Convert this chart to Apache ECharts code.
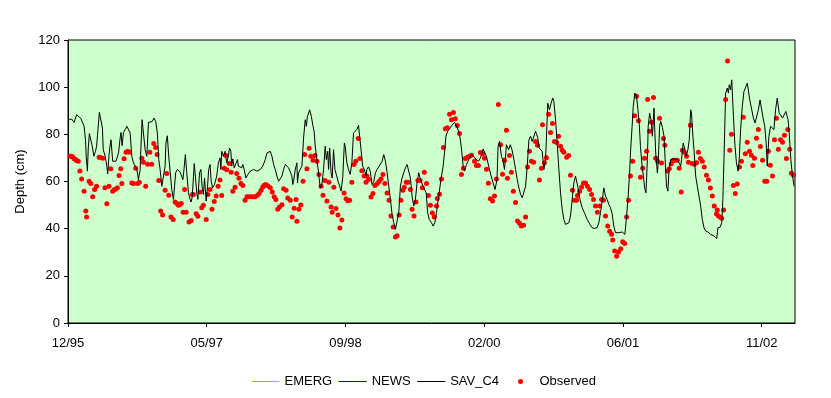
<!DOCTYPE html>
<html>
<head>
<meta charset="utf-8">
<script src="https://cdn.jsdelivr.net/npm/echarts@6/dist/echarts.min.js"></script>
<style>
html,body{margin:0;padding:0;background:#fff;}
#show{width:831px;height:398px;}
</style>
</head>
<body>
<div id="show"></div>
<script>
// x values are days counted from the start of the record (12/95)
var tickDays = [0, 500, 1000, 1500, 2000, 2500];
var tickLabels = ['12/95', '05/97', '09/98', '02/00', '06/01', '11/02'];

// simulated depth (SAV_C4); EMERG and NEWS sit under it and are not visible
var simDay = [4,13,22,31,37,46,53,58,63,66,70,73,77,83,88,93,99,103,108,113,119,124,127,134,140,143,148,151,155,161,167,173,182,188,191,195,200,206,212,218,224,230,236,242,248,254,260,263,267,272,278,284,290,296,303,310,316,322,327,332,338,344,350,353,358,363,368,374,380,384,388,394,404,410,414,418,423,428,434,440,444,448,455,458,464,468,474,479,483,488,492,498,503,507,512,516,521,528,536,542,548,551,554,560,566,572,578,582,587,590,594,599,605,611,614,620,626,630,635,641,648,657,669,681,693,702,711,717,723,729,735,741,747,753,759,765,771,777,783,789,795,801,807,810,813,819,825,827,831,837,843,849,855,859,863,871,877,883,887,891,897,903,909,915,921,927,931,936,939,943,948,952,957,962,967,973,979,984,990,996,999,1005,1011,1017,1023,1029,1035,1041,1047,1051,1056,1062,1068,1074,1077,1083,1089,1096,1102,1108,1114,1120,1126,1132,1138,1144,1150,1156,1162,1168,1174,1180,1186,1192,1198,1204,1210,1216,1222,1228,1234,1240,1246,1252,1258,1264,1270,1282,1291,1296,1302,1310,1316,1322,1328,1336,1344,1352,1358,1362,1368,1378,1386,1393,1400,1408,1414,1419,1424,1429,1436,1444,1453,1462,1472,1480,1489,1496,1502,1508,1516,1525,1532,1539,1546,1550,1555,1558,1562,1567,1573,1576,1580,1586,1588,1594,1600,1607,1613,1619,1625,1631,1637,1643,1649,1655,1661,1667,1673,1679,1685,1688,1693,1698,1703,1709,1715,1721,1724,1729,1735,1741,1747,1751,1757,1763,1769,1775,1781,1787,1793,1799,1805,1811,1817,1823,1829,1833,1837,1845,1853,1861,1871,1881,1889,1897,1907,1913,1919,1925,1931,1937,1943,1949,1955,1961,1967,1973,1979,1985,1991,1997,2003,2007,2012,2018,2024,2027,2033,2037,2043,2049,2054,2059,2063,2069,2075,2079,2083,2085,2088,2091,2096,2101,2106,2112,2114,2118,2124,2127,2132,2136,2142,2148,2152,2157,2162,2166,2172,2178,2184,2190,2196,2202,2208,2211,2217,2222,2228,2234,2239,2244,2247,2252,2256,2262,2268,2274,2280,2286,2292,2298,2306,2316,2328,2334,2338,2342,2350,2356,2360,2364,2370,2376,2380,2383,2388,2392,2397,2403,2409,2415,2419,2424,2430,2436,2442,2448,2452,2457,2463,2470,2476,2482,2488,2494,2499,2505,2511,2516,2520,2526,2532,2538,2544,2550,2556,2563,2568,2575,2581,2587,2590,2595,2599,2605,2611,2617];
var simDepth = [86.2,86.5,85.1,88.3,88.6,86.8,86.5,83.4,77.7,70,64.4,74.2,80.3,80.6,74.6,70.7,72.8,74.9,82,89.3,88.7,82.7,73.5,70.7,66.5,63.2,71.4,74.6,77.7,68.6,67.9,68.6,72.1,78.5,80.8,75.2,80.8,82,83.4,83.7,80.6,70.7,67.9,67.6,65.1,60.8,65.1,74.9,86.2,85.5,73.5,70.7,85.1,85.8,85.4,86.9,85.5,80.6,69.3,65.1,58,57.3,66.5,76.3,79.4,70.7,64.4,56.6,52.4,58,63.7,65.1,64.1,64.4,60.8,65.1,71.4,63.7,55.2,52.4,51.3,53.8,67.6,63.7,55.2,52.4,63.7,65.1,58,54.5,61.5,51.7,58,65.1,67.2,60.1,57.3,58.7,62.3,67.9,70,65.1,72.8,70.7,72.8,67.9,70.7,74.2,72.8,66.5,69.6,65.8,65.1,69.3,66.5,66.8,65.8,67.2,65.1,61.5,62.9,64.4,65.1,64.4,65.1,66.5,69.3,72.1,71.8,72.8,70.7,67.2,65.1,62.3,60.1,60.8,62.3,65.1,67.2,66.5,65.8,65.1,62.3,58.7,60.1,65.1,67.9,59.4,63.7,63.7,66.5,78.5,86.2,83.4,87.6,90.4,87.6,83.4,81.3,75,69.3,63.7,57.3,58.7,65.1,75,69.3,72.8,65.1,74.2,63.7,61.5,73.5,65.1,63,60.1,58,55.9,61.5,76.3,74.9,67.9,65.1,63,67.9,80.6,81.3,82,83.8,79.2,73.5,66.5,65.1,62.3,65.1,66.2,64.4,58.7,60.1,63.7,65.1,66.2,66.5,68.6,71.4,68.6,63.7,58,52.4,46,42.5,39.7,40.4,46.8,58,61.5,63.7,65.8,67.2,66.5,61.5,53.8,49.6,52.4,59.4,63.7,61,57.3,55.2,46.8,43.9,42.5,41.1,42.5,46.8,53.8,60.8,66.5,73.5,79.2,81.3,82.8,84.2,85.1,83.4,81.3,77.7,72.8,66.5,64.4,67.2,69.3,71.4,70.7,69.3,68.6,70.7,73.8,73.5,70.7,66.5,62.3,59.4,56.6,60.8,74.9,77,77.7,70.7,69.3,65.1,69.3,75.6,74.9,73.5,75.6,73.5,69.3,65.1,60.8,57.3,54.5,53.1,53.8,58,66.5,77.7,79.2,77,77.7,81.3,80.6,78.5,74.2,73.5,72.8,65.1,69.3,77.7,93.2,90.4,93.2,95.4,93.9,86.2,76.3,65.1,55.2,48.2,43.9,41.8,41.1,42.5,45.4,52.4,59.4,62.3,63,58,52.4,48.9,46.8,43.9,41.8,40.4,40.1,40.4,42.5,46.8,51.7,57.3,53.8,52.4,50.3,48.9,46.4,41.1,38.3,37.6,38.3,39,38.6,38.3,37.6,43.9,52.4,63.7,72.1,83.4,91.8,97.5,96,90.4,84.1,74.9,66.5,60.8,56.6,55.2,54.5,69.3,83.4,89,86.2,79.2,91.1,83.4,72.1,63.7,67.9,83.4,85.5,83,79.2,69.3,58,55.9,65.1,69.3,68.6,69.6,69.3,69.3,67.9,66.5,69.3,76.3,74.2,70.7,73.5,77.7,90.4,89,79.2,73.5,62.3,58,53.8,49.6,43.9,40.4,39,38.6,37.6,36.9,36.2,35.8,40.4,40.6,42.5,52.4,69.3,97.5,99.6,97.5,101,98.9,103.1,90.4,76.3,67.9,64.4,69.3,82,91.8,98.2,98.9,101.7,101.7,94.6,91.1,86.9,84.8,84.8,90.4,94.6,93.9,86.9,83.4,76.3,66.5,79.2,83.4,84.1,82,90.4,95.4,89,88.3,86.9,86.2,89.7,90.4,86.2,80.6,69.3,62.3,58];
var emergDepth = [];
var newsDepth = [];

// observed depth
var obsDay = [7,13,17,22,27,31,37,43,49,58,64,67,76,82,89,96,103,112,115,125,133,140,148,154,161,167,173,178,184,190,194,202,209,215,221,230,236,244,251,257,266,272,280,287,295,302,309,316,321,327,334,341,350,356,363,371,379,386,392,398,402,408,415,420,426,436,444,448,452,462,468,476,482,488,498,504,512,519,527,534,541,548,554,563,569,572,581,588,594,602,608,616,623,630,638,645,651,659,667,675,683,689,696,702,707,713,720,729,736,743,749,756,762,771,777,786,792,801,808,815,822,825,832,839,847,853,861,869,875,883,890,897,904,912,919,926,933,940,948,952,958,966,973,980,987,995,1002,1008,1015,1023,1031,1037,1046,1052,1059,1067,1074,1077,1083,1092,1099,1106,1114,1121,1128,1135,1142,1150,1157,1164,1172,1180,1186,1193,1200,1207,1212,1219,1225,1234,1240,1247,1254,1261,1269,1277,1284,1292,1299,1306,1313,1320,1328,1331,1339,1346,1353,1360,1367,1375,1382,1389,1396,1403,1411,1418,1425,1432,1439,1447,1454,1465,1472,1479,1486,1494,1501,1508,1515,1522,1530,1537,1544,1551,1559,1566,1573,1580,1584,1591,1598,1605,1613,1620,1627,1634,1642,1649,1656,1663,1670,1678,1685,1692,1699,1706,1710,1717,1724,1732,1739,1746,1753,1761,1768,1775,1781,1787,1797,1804,1811,1818,1825,1833,1836,1844,1851,1858,1865,1872,1880,1887,1894,1901,1908,1916,1923,1930,1937,1945,1952,1959,1963,1970,1977,1984,1992,1999,2006,2013,2020,2027,2035,2042,2049,2056,2063,2071,2078,2085,2089,2096,2103,2110,2118,2125,2132,2139,2146,2151,2160,2167,2174,2181,2189,2196,2203,2210,2214,2221,2229,2236,2243,2250,2257,2265,2272,2279,2286,2293,2301,2308,2315,2322,2329,2337,2340,2344,2351,2356,2363,2370,2377,2385,2391,2398,2405,2412,2420,2427,2434,2441,2448,2456,2463,2468,2474,2481,2488,2495,2503,2511,2518,2524,2531,2539,2546,2553,2560,2568,2575,2582,2589,2594,2601,2607,2614];
var obsDepth = [70.7,70.7,70.4,69.6,69.3,68.9,68.6,64.4,61.1,55.9,47.5,44.9,60.1,59.2,53.5,56.6,58,70.3,70.3,69.9,57.3,50.6,58,65.4,55.9,56.6,56.8,57.3,62.5,65.4,59.2,69.6,72.4,72.8,72.4,59.4,59.2,65.6,59.2,59.7,69.9,68.2,58,67.3,72.4,67.3,76.1,74.4,71.5,60.4,47.5,45.8,56.3,63.4,54.2,44.9,43.9,51.3,50.7,49.9,50.1,50.7,47,56.6,47,42.8,43.5,54.5,54.5,46.3,45.3,55.5,48.9,49.9,43.9,54.5,56.6,48.2,51.5,53.8,58,60.6,54.1,65.6,71,65,67.6,63.9,55.9,57.6,63.4,61.4,59.2,58.3,52.1,53.5,53.5,53.5,53.5,53.5,54.2,54.9,56.3,57.7,58.4,58.7,58.2,57.3,55.5,53.5,52.4,48.2,49.2,50.1,56.9,56.3,53,52.1,44.9,48.7,52.4,43.1,48.2,50,60.1,71.4,65.4,74.1,70.7,69,71,68.6,63,58,54.2,60.4,51.7,59.7,49.2,47,57.6,48.6,45.8,40.3,43.7,55.1,52.7,51.8,52.1,59.7,67.2,68.6,78.2,69.7,64.6,62.3,59.7,62.3,60.8,53.4,54.9,58.3,59,60,61.1,63,59.2,55.1,52.1,45.4,40.7,36.5,37,45.8,52.1,56.3,57.6,59.7,59.7,56.6,48.2,45.4,51.3,60.4,60.4,57.3,63.9,59.2,54.1,49.9,46.6,44.9,49.6,52.8,54.6,61.1,74.4,82.4,82.8,88.5,86.2,89.3,86.6,83.7,80.4,63,65.6,69.7,70.3,70.7,71.1,68.6,66.8,66.8,72.3,71.8,69.9,65.2,59.3,52.7,51.7,53.8,61.1,92.7,75.6,63.1,69,81.7,61.4,71,63.9,55.9,51.1,43.2,42.3,41.1,41.5,44.9,66.1,72.8,68.6,68.2,77,75.4,60.6,65.6,84.1,67.9,70.1,88.5,80.8,84.6,77,76.5,79.2,74.9,73.2,72.4,70.3,71,62.7,56.3,52.1,52.1,54.1,55.9,57.7,59.4,59.4,58,56.6,54.5,52.4,49.6,47,49.6,52.4,52.1,45.4,41.1,38.9,37.6,35.2,30.5,28.3,30.1,31.5,34.4,33.7,44.9,52.1,62.3,68.6,87.9,96.1,85.8,61.8,65.6,69.9,72.8,94.8,81.3,85.1,95.6,69.9,68.6,86.8,67.8,78.2,75.4,64.4,65.4,67.5,69,69,69,65.6,55.5,73.2,72.4,70.7,68.2,83.8,67.6,67.3,67.9,72.4,69.7,68.6,66.1,62.7,60.6,57.2,53.8,49.6,46.2,47.9,45.4,44.8,44.4,47.9,94.8,111.1,73.2,80,58.3,54.9,58.9,66.1,68.6,87.2,71.8,76.6,72.8,71.1,66.8,69.9,78.3,82.1,74.8,69,60.1,60.1,72.8,66.9,62.3,77.7,86.8,73.7,77.7,76.6,79.6,69.7,82.1,73.7,63.5,62.8];

function pairs(xs, ys){
    var out = [];
    for(var i=0;i<xs.length;i++){
        out.push([xs[i], ys[i]]);
    }
    return out;
}

var myChart = echarts.init(document.getElementById('show'), null, {renderer:'canvas'});
var font = "'Liberation Sans', Arial, sans-serif";
var legendText = {fontFamily: font, fontSize: 13, color: '#000'};
var option = {
    animation: false,
    textStyle: {fontFamily: font, color: '#000'},
    grid: {
        left: 68, right: 36, top: 40, bottom: 75,
        show: true,
        backgroundColor: '#CCFFCC',
        borderColor: '#000',
        borderWidth: 1
    },
    legend: [
        {
            // line entries: hide the marker, keep only the line
            left: 246, top: 370,
            itemWidth: 28, itemHeight: 5, itemGap: 6,
            itemStyle: {opacity: 0},
            lineStyle: {width: 1},
            textStyle: legendText,
            data: ['EMERG', 'NEWS', 'SAV_C4']
        },
        {
            left: 513, top: 370,
            itemWidth: 28, itemHeight: 5,
            textStyle: legendText,
            data: [{name: 'Observed', icon: 'circle'}]
        }
    ],
    xAxis: {
        type: 'value',
        min: 0,
        max: 2620,
        interval: 500,
        splitLine: {show: false},
        axisLine: {lineStyle: {color: '#000', width: 1}},
        axisTick: {show: true, length: 4, lineStyle: {color: '#000'}, customValues: tickDays},
        axisLabel: {
            customValues: tickDays,
            fontFamily: font, fontSize: 13, color: '#000', margin: 14,
            formatter: function(v){
                var i = tickDays.indexOf(v);
                return i >= 0 ? tickLabels[i] : '';
            }
        }
    },
    yAxis: {
        type: 'value',
        min: 0,
        max: 120,
        interval: 20,
        name: 'Depth (cm)',
        nameLocation: 'middle',
        nameGap: 38,
        nameTextStyle: {fontFamily: font, fontSize: 13, color: '#000'},
        splitLine: {show: false},
        axisLine: {show: true, lineStyle: {color: '#000', width: 1}},
        axisTick: {show: true, length: 4, lineStyle: {color: '#000'}},
        axisLabel: {fontFamily: font, fontSize: 13, color: '#000', margin: 8}
    },
    series: [
        {
            name: 'EMERG', type: 'line', symbol: 'none',
            lineStyle: {color: '#99CC00', width: 1}, itemStyle: {color: '#99CC00'},
            data: emergDepth
        },
        {
            name: 'NEWS', type: 'line', symbol: 'none',
            lineStyle: {color: '#0000FF', width: 1}, itemStyle: {color: '#0000FF'},
            data: newsDepth
        },
        {
            name: 'SAV_C4', type: 'line', symbol: 'none',
            lineStyle: {color: '#000', width: 1}, itemStyle: {color: '#000'},
            data: pairs(simDay, simDepth)
        },
        {
            name: 'Observed', type: 'scatter', symbol: 'circle', symbolSize: 5,
            itemStyle: {color: '#FF0000', opacity: 1},
            data: pairs(obsDay, obsDepth)
        }
    ]
};
myChart.setOption(option);
</script>
</body>
</html>
